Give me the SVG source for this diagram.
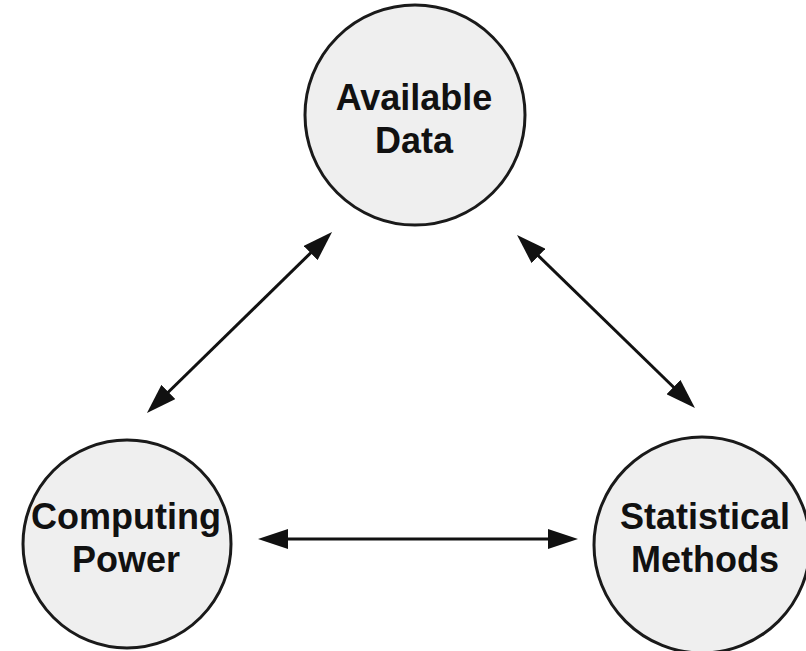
<svg xmlns="http://www.w3.org/2000/svg" width="806" height="651" viewBox="0 0 806 651">
<style>
.node circle{fill:#efefef;stroke:#1a1a1a;stroke-width:3}
.node text{font-family:"Liberation Sans",Arial,sans-serif;font-weight:bold;font-size:36px;fill:#111;text-anchor:middle}
.conn line{stroke:#111;stroke-width:3}
</style>
<defs>
<marker id="ah" viewBox="0 0 30 20" refX="20" refY="10" markerWidth="30" markerHeight="20" markerUnits="userSpaceOnUse" orient="auto-start-reverse">
<path d="M0,0 L30,10 L0,20 Z" fill="#111"/>
</marker>
</defs>
<rect width="806" height="651" fill="#fff"/>
<g id="available-data" class="node">
<circle cx="415" cy="115" r="110"/>
<text x="414" y="110">Available</text>
<text x="414" y="153">Data</text>
</g>
<g id="computing-power" class="node">
<circle cx="127" cy="544" r="104"/>
<text x="126" y="529">Computing</text>
<text x="126" y="572">Power</text>
</g>
<g id="statistical-methods" class="node">
<circle cx="702" cy="545" r="108"/>
<text x="705" y="529">Statistical</text>
<text x="705" y="572">Methods</text>
</g>
<g id="connectors" class="conn">
<line x1="154.1" y1="406" x2="324.9" y2="239" marker-start="url(#ah)" marker-end="url(#ah)"/>
<line x1="524.2" y1="242" x2="687.8" y2="401" marker-start="url(#ah)" marker-end="url(#ah)"/>
<line x1="268" y1="539" x2="568" y2="539" marker-start="url(#ah)" marker-end="url(#ah)"/>
</g>
</svg>
